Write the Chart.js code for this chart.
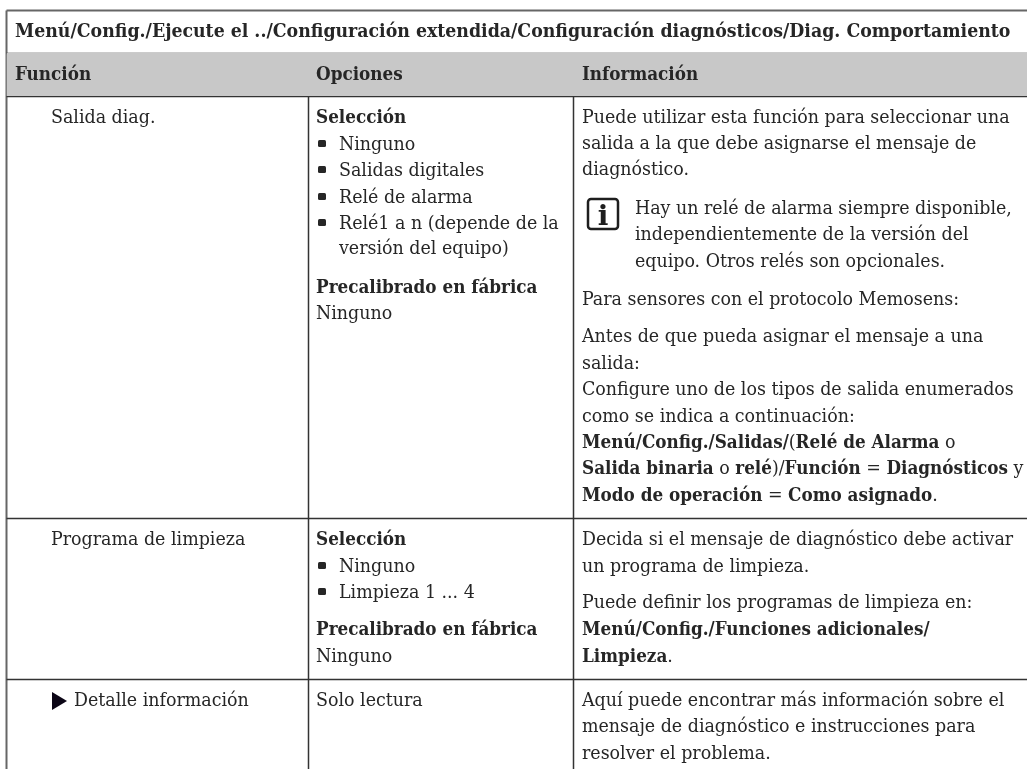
<!DOCTYPE html>
<html>
<head>
<meta charset="utf-8">
<script src="https://cdn.jsdelivr.net/npm/chart.js@4"></script>
<style>
  html, body { margin: 0; padding: 0; background: #fff; }
  canvas { display: block; }
</style>
</head>
<body>
<canvas id="chart1" width="1027" height="769"></canvas>
<script>
// text of the table, *...* marks the bold runs
var pathTitle = ['*Menú/Config./Ejecute el ../Configuración extendida/Configuración diagnósticos/Diag. Comportamiento*'];
var columnLabels = ['*Función*', '*Opciones*', '*Información*'];
var functionLabels = ['Salida diag.', 'Programa de limpieza', 'Detalle información'];
var optionHeads = ['*Selección*', '*Precalibrado en fábrica*', 'Ninguno', '*Selección*', '*Precalibrado en fábrica*', 'Ninguno', 'Solo lectura', 'versión del equipo)'];
var optionBullets = ['Ninguno', 'Salidas digitales', 'Relé de alarma', 'Relé1 a n (depende de la', 'Ninguno', 'Limpieza 1 ... 4'];
var infoLines = [
  'Puede utilizar esta función para seleccionar una',
  'salida a la que debe asignarse el mensaje de',
  'diagnóstico.',
  'Para sensores con el protocolo Memosens:',
  'Antes de que pueda asignar el mensaje a una',
  'salida:',
  'Configure uno de los tipos de salida enumerados',
  'como se indica a continuación:',
  '*Menú/Config./Salidas/*(*Relé de Alarma* o',
  '*Salida binaria* o *relé*)/*Función* = *Diagnósticos* y',
  '*Modo de operación* = *Como asignado*.',
  'Decida si el mensaje de diagnóstico debe activar',
  'un programa de limpieza.',
  'Puede definir los programas de limpieza en:',
  '*Menú/Config./Funciones adicionales/*',
  '*Limpieza*.',
  'Aquí puede encontrar más información sobre el',
  'mensaje de diagnóstico e instrucciones para',
  'resolver el problema.'
];
var noteLines = ['Hay un relé de alarma siempre disponible,', 'independientemente de la versión del', 'equipo. Otros relés son opcionales.'];

// where the text sits, in page units of the two hidden axes
var titleY = [37];
var columnY = 80;
var columnX = [15, 316, 582];
var functionX = 51;
var functionY = [123, 545, 706];
var optionHeadY = [123, 293, 319, 545, 635, 662, 706, 254];
var bulletY = [150, 176, 203, 229, 572, 598];
var infoY = [123, 149, 175, 305, 342, 369, 395, 422, 448, 474, 501, 545, 572, 608, 635, 662, 706, 732, 759];
var noteX = 635;
var noteY = [214, 240, 267];

// rules of the table
var ruleRows = [53, 96, 518, 679];
var ruleCols = [308, 573];
var pageRight = 1027;
var pageBottom = 769;
var boxLeft = 6.5;
var boxTop = 10.5;

var datasets = [];
function rule(x1, y1, x2, y2, color, width) {
  datasets.push({
    data: [{x: x1, y: y1}, {x: x2, y: y2}],
    showLine: true, pointRadius: 0, borderColor: color, borderWidth: width, fill: false
  });
}
// gray header band
datasets.push({
  data: [{x: boxLeft, y: ruleRows[0]}, {x: pageRight, y: ruleRows[0]}],
  showLine: true, pointRadius: 0, borderWidth: 0, backgroundColor: '#c8c8c8', fill: '+1'
});
datasets.push({
  data: [{x: boxLeft, y: ruleRows[1]}, {x: pageRight, y: ruleRows[1]}],
  showLine: true, pointRadius: 0, borderWidth: 0, fill: false
});
ruleRows.forEach(function(y) { rule(boxLeft, y + 0.5, pageRight, y + 0.5, '#333333', 1.5); });
ruleCols.forEach(function(x) { rule(x + 0.5, ruleRows[0], x + 0.5, pageBottom, '#333333', 1.5); });
rule(boxLeft, boxTop, pageRight, boxTop, '#666666', 2);
rule(boxLeft, boxTop, boxLeft, pageBottom, '#666666', 2);

var family = '"DejaVu Serif Condensed", "DejaVu Serif", serif';
var regular = '19.4px ' + family;
var bold = 'bold 18.7px ' + family;
var titleBold = 'bold 19.3px ' + family;

var tablePlugin = {
  id: 'tableText',
  afterDatasetsDraw: function(chart) {
    var c = chart.ctx, sx = chart.scales.x, sy = chart.scales.y;

    function put(str, x, y, boldFont) {
      var px = sx.getPixelForValue(x), py = sy.getPixelForValue(y);
      str.split('*').forEach(function(part, i) {
        if (!part) return;
        c.font = i % 2 ? (boldFont || bold) : regular;
        c.fillText(part, px, py);
        px += c.measureText(part).width;
      });
    }

    c.save();
    c.fillStyle = '#262626';
    c.textAlign = 'left';
    c.textBaseline = 'alphabetic';

    pathTitle.forEach(function(t, i) { put(t, columnX[0], titleY[i], titleBold); });
    columnLabels.forEach(function(t, i) { put(t, columnX[i], columnY); });
    functionLabels.forEach(function(t, i) { put(t, i == 2 ? functionX + 23 : functionX, functionY[i]); });
    optionHeads.forEach(function(t, i) { put(t, i == 7 ? columnX[1] + 23 : columnX[1], optionHeadY[i]); });
    optionBullets.forEach(function(t, i) {
      put(t, columnX[1] + 23, bulletY[i]);
      c.beginPath();
      c.roundRect(sx.getPixelForValue(columnX[1] + 2), sy.getPixelForValue(bulletY[i] - 10), 8, 7, 1.5);
      c.fill();
    });
    infoLines.forEach(function(t, i) { put(t, columnX[2], infoY[i]); });
    noteLines.forEach(function(t, i) { put(t, noteX, noteY[i]); });

    // triangle in front of Detalle información
    c.beginPath();
    c.moveTo(sx.getPixelForValue(52), sy.getPixelForValue(692));
    c.lineTo(sx.getPixelForValue(67), sy.getPixelForValue(701));
    c.lineTo(sx.getPixelForValue(52), sy.getPixelForValue(710));
    c.closePath();
    c.fillStyle = '#0c0616';
    c.fill();

    // info icon
    c.fillStyle = '#1e1e1e';
    c.strokeStyle = '#1e1e1e';
    c.lineWidth = 2.5;
    c.beginPath();
    c.roundRect(sx.getPixelForValue(588), sy.getPixelForValue(199), 30, 30, 3);
    c.stroke();
    c.font = 'bold 28px "DejaVu Serif"';
    c.textAlign = 'center';
    c.fillText('i', sx.getPixelForValue(603), sy.getPixelForValue(225));
    c.restore();
  }
};

var ctx = document.getElementById('chart1').getContext('2d');
var myChart = new Chart(ctx, {
  type: 'scatter',
  data: { datasets: datasets },
  options: {
    responsive: false,
    animation: false,
    layout: { padding: 0 },
    scales: {
      x: { type: 'linear', min: 0, max: pageRight, display: false },
      y: { type: 'linear', min: 0, max: pageBottom, reverse: true, display: false }
    },
    plugins: {
      legend: { display: false },
      tooltip: { enabled: false }
    }
  },
  plugins: [tablePlugin]
});
</script>
</body>
</html>
